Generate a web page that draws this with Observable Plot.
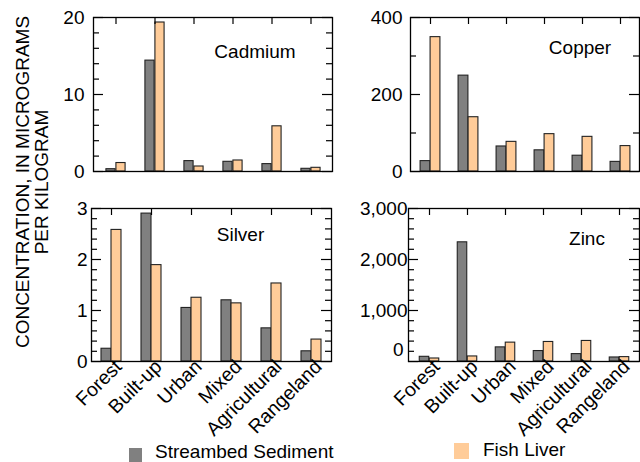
<!DOCTYPE html>
<html><head><meta charset="utf-8">
<script src="https://cdn.jsdelivr.net/npm/d3@7"></script>
<script src="https://cdn.jsdelivr.net/npm/@observablehq/plot@0.6"></script>
<style>
body{margin:0;background:#fff;font-family:"Liberation Sans",Arial,sans-serif;}
#wrap{position:relative;width:640px;height:462px;overflow:hidden;background:#fff;}
.panel{position:absolute;}
#ylabel{position:absolute;left:32px;top:182px;transform:translate(-50%,-50%) rotate(-90deg);text-align:center;font-size:19px;line-height:19px;white-space:nowrap;color:#000;}
.leg{position:absolute;font-size:19px;line-height:20px;white-space:nowrap;color:#000;}
.sw{position:absolute;}
</style></head><body><div id="wrap"></div>
<script>
const categories = ["Forest","Built-up","Urban","Mixed","Agricultural","Rangeland"];
const seriesNames = ["Streambed Sediment","Fish Liver"];
const cadmiumSediment = [0.3, 14.4, 1.35, 1.26, 0.96, 0.35];
const cadmiumFish     = [1.1, 19.35, 0.65, 1.43, 5.87, 0.48];
const copperSediment  = [27, 249, 65, 55, 41, 25];
const copperFish      = [349, 141, 77, 97, 90, 66];
const silverSediment  = [0.25, 2.90, 1.05, 1.20, 0.65, 0.20];
const silverFish      = [2.58, 1.89, 1.25, 1.14, 1.53, 0.43];
const zincSediment    = [92, 2337, 277, 205, 145, 79];
const zincFish        = [59, 99, 370, 383, 403, 86];
const cadmiumTicks = [0, 10, 20];
const copperTicks  = [0, 200, 400];
const silverTicks  = [0, 1, 2, 3];
const zincTicks    = [0, 1000, 2000, 3000];

const colors = {sed: "#808080", fish: "#ffcc99"};
const wrap = document.getElementById("wrap");

function panel(o) {
  const rows = categories.map((c, i) => ({cat: c, sed: o.sed[i], fish: o.fish[i]}));
  const fw = o.width - o.ml - o.mr;
  const fh = o.height - o.mt - o.mb;
  const bw = fw / categories.length;
  const minor = d3.range(o.domain[0], o.domain[1] + o.minorStep / 2, o.minorStep).filter(v => !o.major.some(m => Math.abs(m - v) < 1e-9));
  const marks = [
    Plot.barY(rows, {x: "cat", y: "sed", fill: colors.sed, stroke: "#222", strokeWidth: 1.1, insetLeft: bw / 2 - 10, insetRight: bw / 2}),
    Plot.barY(rows, {x: "cat", y: "fish", fill: colors.fish, stroke: "#222", strokeWidth: 1.1, insetLeft: bw / 2, insetRight: bw / 2 - 10}),
    Plot.ruleY(o.major, {y: d => d, insetRight: fw - 10, stroke: "#000", strokeWidth: 1.2}),
    Plot.ruleY(minor, {y: d => d, insetRight: fw - 6, stroke: "#000", strokeWidth: 1.2}),
    Plot.ruleY(o.major, {y: d => d, insetLeft: fw - 10, stroke: "#000", strokeWidth: 1.2}),
    Plot.ruleY(minor, {y: d => d, insetLeft: fw - 6, stroke: "#000", strokeWidth: 1.2}),
    Plot.ruleX(categories, {x: d => d, insetBottom: fh - 7, stroke: "#000", strokeWidth: 1.2}),
    Plot.frame({stroke: "#000", strokeWidth: 1.3}),
    Plot.text([o.title], {frameAnchor: "top", dx: o.tdx, dy: o.tdy, fontSize: 19, fill: "#000"})
  ];
  const fmt = d3.format(",");
  if (o.zeroShift) {
    marks.push(Plot.axisY(o.major.filter(v => v !== 0), {tickSize: 0, tickPadding: o.pad, fontSize: 19, tickFormat: fmt}));
    marks.push(Plot.axisY([0], {tickSize: 0, tickPadding: o.pad, fontSize: 19, dx: o.zeroShift[0], dy: o.zeroShift[1], tickFormat: fmt}));
  } else {
    marks.push(Plot.axisY(o.major, {tickSize: 0, tickPadding: o.pad, fontSize: 19, tickFormat: fmt}));
  }
  if (o.showX) {
    marks.push(Plot.axisX({tickSize: 0, tickRotate: -45, tickPadding: 2, fontSize: 19.5, dx: 7, label: null}));
  }
  const svg = Plot.plot({
    width: o.width, height: o.height,
    marginLeft: o.ml, marginRight: o.mr, marginTop: o.mt, marginBottom: o.mb,
    x: {type: "band", domain: categories, padding: 0, axis: o.showX ? undefined : null, label: null},
    y: {domain: o.domain, label: null},
    style: {fontFamily: "Liberation Sans, Arial, sans-serif", fontSize: "19px", background: "transparent", overflow: "visible", color: "#000"},
    marks
  });
  svg.classList.add("panel");
  svg.style.left = o.left + "px";
  svg.style.top = o.top + "px";
  wrap.appendChild(svg);
}

panel({title: "Cadmium", sed: cadmiumSediment, fish: cadmiumFish, domain: [0, 20], major: cadmiumTicks, minorStep: 2,
  left: 0, top: 0, width: 335, height: 185, ml: 93, mr: 3, mt: 17, mb: 14, pad: 9, tdx: 42, tdy: 27, showX: false});
panel({title: "Copper", sed: copperSediment, fish: copperFish, domain: [0, 400], major: copperTicks, minorStep: 100,
  left: 330, top: 0, width: 310, height: 185, ml: 80, mr: 1, mt: 17, mb: 14, pad: 8, tdx: 55, tdy: 23, showX: false});
panel({title: "Silver", sed: silverSediment, fish: silverFish, domain: [0, 3], major: silverTicks, minorStep: 0.2,
  left: 0, top: 190, width: 335, height: 272, ml: 91, mr: 4, mt: 18, mb: 101, pad: 4, tdx: 29, tdy: 19, showX: true});
panel({title: "Zinc", sed: zincSediment, fish: zincFish, domain: [0, 3000], major: zincTicks, minorStep: 200,
  left: 330, top: 190, width: 310, height: 272, ml: 78, mr: 1, mt: 18, mb: 101, pad: 1, tdx: 63, tdy: 23, showX: true, zeroShift: [-4, -12]});

const yl = document.createElement("div");
yl.id = "ylabel";
yl.innerHTML = "CONCENTRATION, IN MICROGRAMS<br>PER KILOGRAM";
wrap.appendChild(yl);

function legendItem(name, color, sx, sy, sw, sh, tx, ty) {
  const s = document.createElement("div");
  s.className = "sw";
  Object.assign(s.style, {left: sx + "px", top: sy + "px", width: sw + "px", height: sh + "px", background: color});
  wrap.appendChild(s);
  const t = document.createElement("div");
  t.className = "leg";
  t.style.left = tx + "px"; t.style.top = ty + "px";
  t.textContent = name;
  wrap.appendChild(t);
}
legendItem(seriesNames[0], colors.sed, 129, 448, 13, 14, 155, 442);
legendItem(seriesNames[1], colors.fish, 454, 443, 15, 16, 483, 440);
</script></body></html>
